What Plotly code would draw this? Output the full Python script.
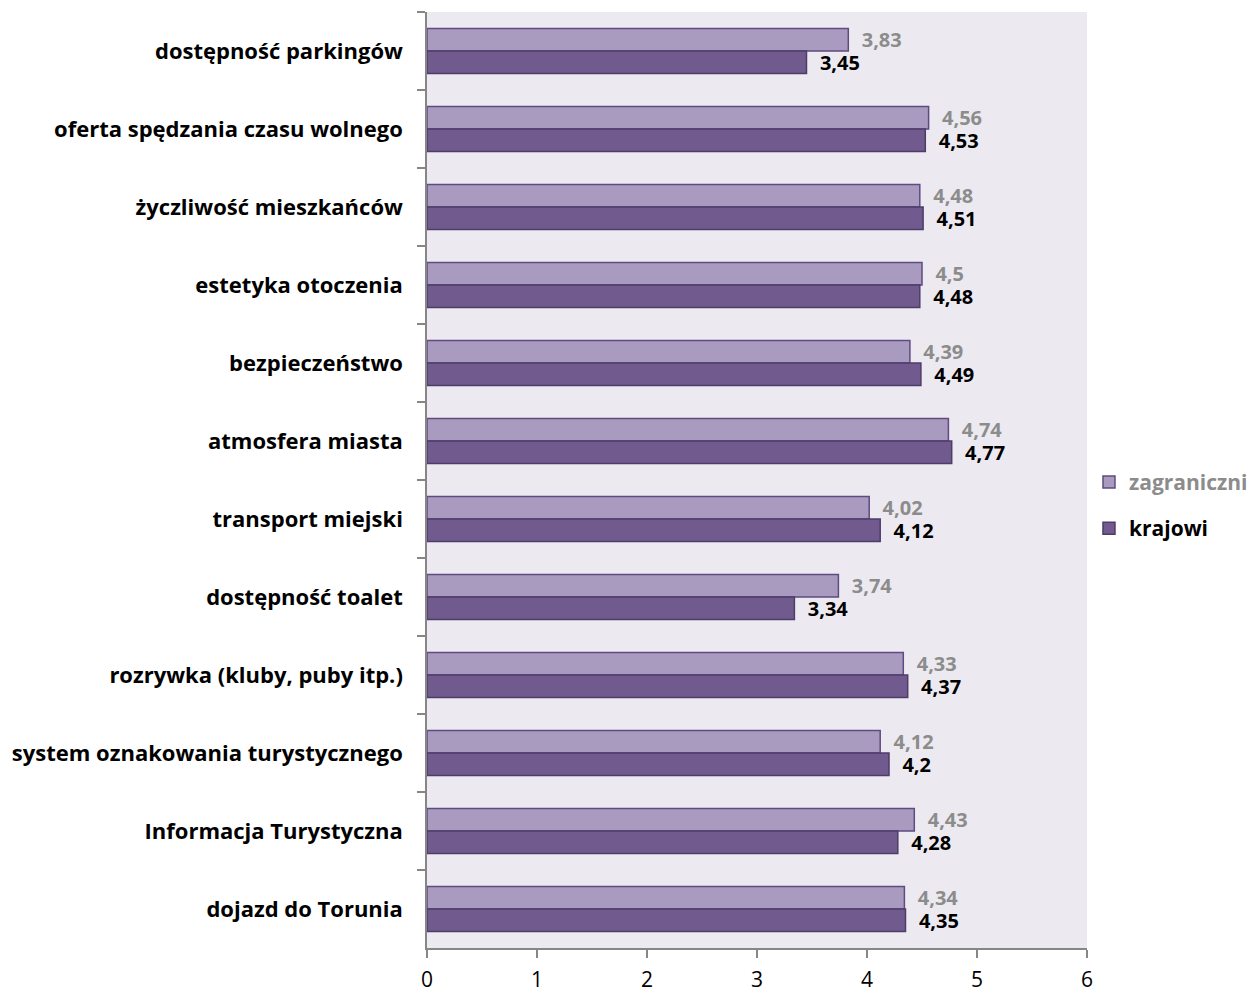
import plotly.graph_objects as go

categories = [
    "dostępność parkingów",
    "oferta spędzania czasu wolnego",
    "życzliwość mieszkańców",
    "estetyka otoczenia",
    "bezpieczeństwo",
    "atmosfera miasta",
    "transport miejski",
    "dostępność toalet",
    "rozrywka (kluby, puby itp.)",
    "system oznakowania turystycznego",
    "Informacja Turystyczna",
    "dojazd do Torunia",
]
zagraniczni = [3.83, 4.56, 4.48, 4.5, 4.39, 4.74, 4.02, 3.74, 4.33, 4.12, 4.43, 4.34]
krajowi = [3.45, 4.53, 4.51, 4.48, 4.49, 4.77, 4.12, 3.34, 4.37, 4.2, 4.28, 4.35]
x_ticks = [0, 1, 2, 3, 4, 5, 6]

FONT = "'Open Sans', sans-serif"
PAD = "\u00a0\u00a0"


def fmt(v):
    return PAD + f"{v:g}".replace(".", ",")


fig = go.Figure()
fig.add_trace(go.Bar(
    name="<span style='color:#8c8c8c'><b>zagraniczni</b></span>",
    y=categories, x=zagraniczni, orientation="h",
    marker=dict(color="#a99bc0", line=dict(color="#5f4b7f", width=1.5)),
    text=[fmt(v) for v in zagraniczni], textposition="outside",
    constraintext="none",
    textfont=dict(family=FONT, size=20, color="#8c8c8c", weight="bold"),
    legendgroup="z", cliponaxis=False,
))
fig.add_trace(go.Bar(
    name="<b>krajowi</b>",
    y=categories, x=krajowi, orientation="h",
    marker=dict(color="#705a8e", line=dict(color="#4e3c69", width=1.5)),
    text=[fmt(v) for v in krajowi], textposition="outside",
    constraintext="none",
    textfont=dict(family=FONT, size=20, color="#000000", weight="bold"),
    legendgroup="k", cliponaxis=False,
))

fig.update_layout(
    width=1250, height=986,
    margin=dict(l=419, r=171, t=4, b=46, autoexpand=False),
    paper_bgcolor="white", plot_bgcolor="#eceaf0",
    barmode="group", bargap=0.42, bargroupgap=0,
    font=dict(family=FONT, size=21, color="#000000"),
    legend=dict(
        x=1.003, y=0.473, xanchor="left", yanchor="middle",
        font=dict(family=FONT, size=21), tracegroupgap=16,
        bgcolor="rgba(0,0,0,0)",
    ),
)
fig.update_xaxes(
    range=[0, 6], tickvals=x_ticks, showgrid=False, zeroline=False,
    showline=True, linecolor="#868686", linewidth=1.5,
    ticks="outside", ticklen=8, tickcolor="#868686", tickwidth=1.5,
    ticklabelstandoff=4,
    tickfont=dict(family=FONT, size=21, color="#000000"),
)
fig.update_yaxes(
    autorange="reversed", showgrid=False, zeroline=False,
    showline=True, linecolor="#868686", linewidth=1.5,
    ticks="outside", ticklen=8, tickcolor="#868686", tickwidth=1.5,
    tickson="boundaries", ticklabelstandoff=18,
    tickfont=dict(family=FONT, size=22, color="#000000", weight="bold"),
)

fig.write_html("out.html")
